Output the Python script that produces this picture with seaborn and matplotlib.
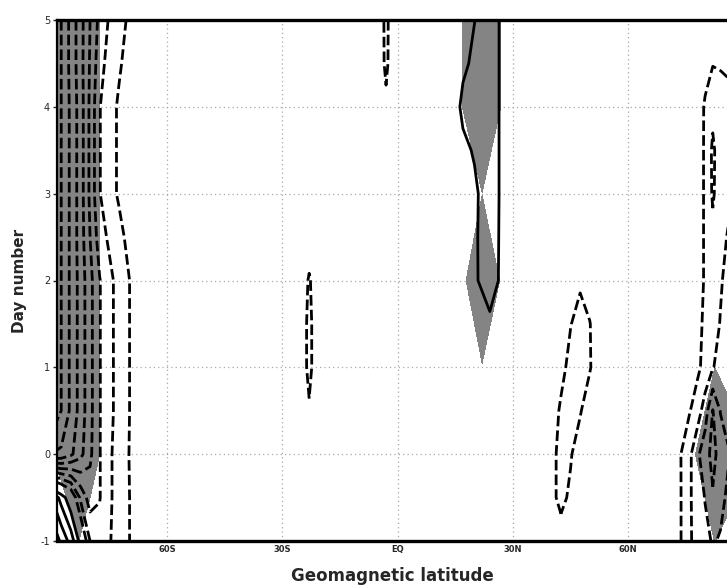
import numpy as np
import matplotlib
matplotlib.use("Agg")
import matplotlib.pyplot as plt
import seaborn as sns

# ---------------- data ----------------
days = [-1, -0.5, 0, 0.5, 1, 1.5, 2, 2.5, 3, 3.5, 4, 4.5, 5]

# left band (southern high latitudes) : strong negative anomaly
left_lats = [-90, -87.5, -85, -82.5, -80, -77.5, -75, -72.5, -70, -67.5, -62.5]
left_vals = [
    [5.0, 3.8, 2.6, 0.6, -2.0, -2.6, -2.1, -1.5, -1.05, -0.6, -0.2],
    [3.0, 1.6, 0.2, -2.2, -3.5, -3.05, -2.2, -1.5, -1.05, -0.6, -0.2],
    [-7.0, -6.8, -6.2, -5.3, -4.2, -3.05, -2.2, -1.5, -1.02, -0.6, -0.2],
    [-9.0, -8.0, -6.8, -5.6, -4.3, -3.05, -2.3, -1.6, -1.05, -0.6, -0.2],
    [-9.0, -8.0, -6.8, -5.6, -4.3, -3.05, -2.3, -1.6, -1.05, -0.6, -0.2],
    [-9.0, -8.0, -6.8, -5.6, -4.3, -3.05, -2.3, -1.6, -1.05, -0.6, -0.2],
    [-9.0, -8.0, -6.8, -5.6, -4.3, -3.05, -2.3, -1.6, -1.05, -0.6, -0.2],
    [-9.0, -8.0, -6.8, -5.5, -4.0, -2.5, -1.8, -1.25, -0.8, -0.5, -0.15],
    [-9.0, -8.0, -6.8, -5.5, -3.8, -2.05, -1.3, -0.9, -0.6, -0.4, -0.1],
    [-9.0, -8.0, -6.8, -5.5, -3.8, -2.05, -1.3, -0.9, -0.6, -0.4, -0.1],
    [-9.0, -8.0, -6.8, -5.5, -3.8, -2.05, -1.3, -0.9, -0.6, -0.4, -0.1],
    [-9.0, -8.0, -6.7, -5.4, -3.9, -2.4, -1.6, -1.1, -0.75, -0.5, -0.15],
    [-9.0, -8.0, -6.7, -5.4, -4.0, -2.7, -1.9, -1.3, -0.9, -0.6, -0.2],
]

# small negative cell near 23S
s23_lats = [-25, -23, -21]
s23_vals = [
    [0, 0, 0], [0, 0, 0], [0, 0, 0], [0, -0.8, 0], [0, -1.5, 0],
    [0, -1.5, 0], [0, -1.2, 0], [0, 0, 0], [0, 0, 0], [0, 0, 0],
    [0, 0, 0], [0, 0, 0], [0, 0, 0],
]

# small negative cell near the equator
eq_lats = [-4.5, -3, -1.5]
eq_vals = [
    [0, 0, 0], [0, 0, 0], [0, 0, 0], [0, 0, 0], [0, 0, 0],
    [0, 0, 0], [0, 0, 0], [0, 0, 0], [0, 0, 0], [0, 0, 0],
    [0, -0.5, 0], [0, -1.5, 0], [0, -1.6, 0],
]

# positive cell near 22N
n22_lats = [13, 17, 20, 24, 28, 32]
n22_vals = [
    [0, 0, 0, 0, 0, 0],
    [0, 0, 0, 0, 0, 0],
    [0, 0, 0, 0, 0, 0],
    [0, 0, 0, 0, 0, 0],
    [0, 0.1, 0.2, 0.3, 0.2, 0],
    [0, 0.2, 0.5, 0.8, 0.4, 0],
    [0, 0.3, 0.85, 1.5, 0.6, 0],
    [0, 0.3, 0.85, 1.55, 0.6, 0],
    [0, 0.3, 0.8, 1.6, 0.6, 0],
    [0, 0.75, 1.1, 1.6, 0.6, 0],
    [0, 1.25, 1.3, 1.6, 0.6, 0],
    [0, 0.8, 1.2, 1.6, 0.6, 0],
    [0, 0.5, 0.98, 1.6, 0.6, 0],
]

# tilted negative cell near 45N
n45_lats = [37, 40, 42.5, 45, 47.5, 50, 53]
n45_vals = [
    [0, -0.2, -0.5, -0.3, 0, 0, 0],
    [0, -0.7, -1.3, -0.8, -0.2, 0, 0],
    [0, -0.6, -1.4, -1.1, -0.4, 0, 0],
    [0, -0.3, -1.2, -1.5, -1.1, -0.3, 0],
    [0, 0, -0.6, -1.4, -1.5, -1.1, 0],
    [0, 0, -0.3, -0.95, -1.5, -1.05, 0],
    [0, 0, 0, -0.3, -0.8, -0.4, 0],
    [0, 0, 0, 0, 0, 0, 0],
    [0, 0, 0, 0, 0, 0, 0],
    [0, 0, 0, 0, 0, 0, 0],
    [0, 0, 0, 0, 0, 0, 0],
    [0, 0, 0, 0, 0, 0, 0],
    [0, 0, 0, 0, 0, 0, 0],
]

# northern high latitudes
right_lats = [65, 70, 73, 76, 78, 80, 82, 84, 86, 88, 90]
right_vals = [
    [0, -0.3, -0.7, -1.9, -2.3, -2.7, -3.1, -2.9, -2.5, -2.3, -2.2],
    [0, -0.3, -0.7, -1.9, -2.4, -3.05, -3.9, -3.3, -2.8, -2.5, -2.3],
    [0, -0.3, -0.75, -1.8, -2.8, -3.6, -4.3, -3.6, -3.1, -2.8, -2.5],
    [0, -0.2, -0.5, -0.95, -1.5, -2.5, -4.05, -2.95, -2.6, -2.4, -2.3],
    [0, -0.1, -0.3, -0.5, -0.8, -1.3, -1.95, -2.3, -2.4, -2.3, -2.2],
    [0, -0.1, -0.2, -0.4, -0.7, -1.2, -1.6, -2.05, -2.4, -2.3, -2.2],
    [0, -0.1, -0.2, -0.3, -0.6, -1.1, -1.5, -1.9, -2.3, -2.2, -2.1],
    [0, -0.1, -0.2, -0.3, -0.6, -1.1, -1.7, -1.6, -2.1, -2.1, -2.0],
    [0, -0.1, -0.2, -0.3, -0.6, -1.1, -2.15, -1.4, -1.7, -1.8, -1.8],
    [0, -0.1, -0.2, -0.3, -0.6, -1.1, -2.2, -1.4, -1.5, -1.6, -1.6],
    [0, -0.1, -0.15, -0.2, -0.55, -1.1, -1.7, -1.5, -1.4, -1.4, -1.4],
    [0, -0.05, -0.1, -0.1, -0.4, -0.7, -0.95, -0.9, -0.8, -0.8, -0.8],
    [0, 0, -0.05, -0.1, -0.2, -0.4, -0.5, -0.5, -0.5, -0.5, -0.5],
]

# shaded (significant) areas, daily grid
shade_days = [-1, 0, 1, 2, 3, 4, 5]
shade_lats = [-90, -86, -83, -80, -75, 12, 17, 22, 27, 32, 72, 77, 82.5, 88, 90]
shade_vals = [
    [0, 0, 1.02, 0, 0, 0, 0, 0, 0, 0, 0, 0, 1.02, 0, 0],
    [0.9, 2.08, 3, 2, 0, 0, 0, 0, 0, 0, 0, 0.8, 3, 2, 1.5],
    [3, 3, 3, 2, 0, 0, 0, 0.95, 0, 0, 0, 0, 0.98, 0, 0],
    [3, 3, 3, 2, 0, 0, 0.8, 2, 0.9, 0, 0, 0, 0, 0, 0],
    [3, 3, 3, 2, 0, 0, 0, 0.98, 0, 0, 0, 0, 0, 0, 0],
    [3, 3, 3, 2, 0, 0, 1.03, 2.5, 0.95, 0, 0, 0, 0, 0, 0],
    [3, 3, 3, 2, 0, 0, 1.03, 2.5, 0.95, 0, 0, 0, 0, 0, 0],
]
shade_threshold = 1.0

neg_levels = [-9, -8, -7, -6, -5, -4, -3, -2, -1]
pos_levels = [1, 2, 3, 4, 5, 6, 7, 8, 9]

tick_lats = [-60, -30, 0, 30, 60]
tick_lat_labels = ["60S", "30S", "EQ", "30N", "60N"]
tick_days = [-1, 0, 1, 2, 3, 4, 5]
tick_day_labels = ["-1", "0", "1", "2", "3", "4", "5"]

# ---------------- assemble grid ----------------
lats = np.array(left_lats + s23_lats + eq_lats + n22_lats + n45_lats + right_lats, float)
field = np.hstack([np.array(b, float) for b in
                   (left_vals, s23_vals, eq_vals, n22_vals, n45_vals, right_vals)])

# ---------------- plot ----------------
sns.set_theme(style="white")
plt.rcParams['font.family'] = ['DejaVu Sans']

fig = plt.figure(figsize=(7.27, 5.87), dpi=100)
ax = fig.add_axes([57 / 727, 1 - 541 / 587, 670 / 727, 521 / 587])

ax.contourf(shade_lats, shade_days, np.array(shade_vals, float),
            levels=[shade_threshold, 100], colors=['#848484'], zorder=1)
ax.contour(lats, days, field, levels=neg_levels, colors='black',
           linewidths=2.0, linestyles=[(0, (3.8, 1.5))], zorder=2)
ax.contour(lats, days, field, levels=pos_levels, colors='black',
           linewidths=2.0, linestyles='solid', zorder=2)

ax.set_xlim(-88.6, 85.7)
ax.set_ylim(-1, 5)
ax.set_xticks(tick_lats)
ax.set_xticklabels(tick_lat_labels, fontsize=6, fontweight='bold')
ax.set_yticks(tick_days)
ax.set_yticklabels(tick_day_labels, fontsize=7)
ax.tick_params(axis='x', length=0, pad=3)
ax.tick_params(axis='y', length=3, width=1, direction='out', pad=2, left=True)

ax.set_axisbelow(True)
ax.grid(True, color='#a8a8a8', linestyle=(0, (1, 2.5)), linewidth=0.9)

for side in ('top', 'bottom'):
    ax.spines[side].set_linewidth(2.4)
    ax.spines[side].set_color('black')
ax.spines['left'].set_linewidth(1.6)
ax.spines['left'].set_color('black')
ax.spines['right'].set_visible(False)

ax.set_xlabel('Geomagnetic latitude', fontsize=12, fontweight='bold', labelpad=9)
ax.set_ylabel('Day number', fontsize=11, fontweight='bold', labelpad=10)

fig.savefig('out.png', dpi=100)
